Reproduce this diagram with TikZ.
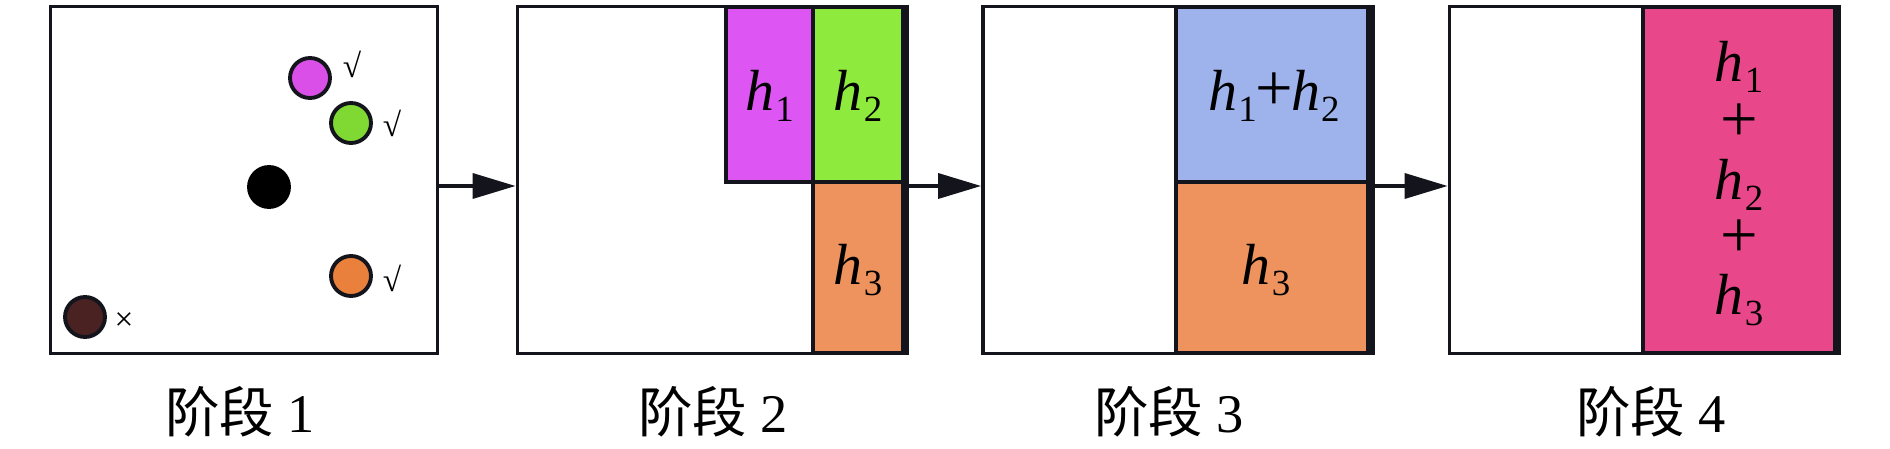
\documentclass[tikz,border=0pt]{standalone}
\usepackage{fontspec}
\setmainfont{Liberation Serif}
\newfontfamily\cjk{Noto Sans CJK SC}
\usetikzlibrary{arrows.meta}

\definecolor{edgeblk}{HTML}{14141C}
\definecolor{ballmag}{HTML}{D94FE8}
\definecolor{ballgreen}{HTML}{80D832}
\definecolor{ballorange}{HTML}{E9803C}
\definecolor{ballbrown}{HTML}{4A2222}
\definecolor{partmag}{HTML}{DD55F2}
\definecolor{partgreen}{HTML}{8EEA3C}
\definecolor{partorange}{HTML}{EE935E}
\definecolor{partblue}{HTML}{9EB2EC}
\definecolor{partpink}{HTML}{E8478A}

% italic h with a lowered index, and a wide plus
\newcommand{\hsub}[1]{\textit{h}\kern0.02em\raisebox{-6pt}{\fontsize{21}{21}\selectfont #1}}
\newcommand{\bigplus}{{\fontsize{38}{38}\selectfont +}}

\tikzset{
    stagebox/.style={draw=edgeblk, line width=2.2pt, minimum width=7.74cm, minimum height=6.94cm, inner sep=0pt},
    part/.style={draw=edgeblk, line width=2.2pt},
    ball/.style={circle, draw=edgeblk, line width=2.2pt, minimum size=0.8cm, inner sep=0pt},
    flow/.style={draw=edgeblk, line width=2pt, -{Triangle[length=0.86cm, width=0.5cm]}},
    stagelabel/.style={font=\fontsize{31}{36}\selectfont},
    hlabel/.style={font=\fontsize{33}{33}\selectfont, inner sep=0pt},
    ticklabel/.style={font=\fontsize{19}{21}\selectfont, inner sep=0pt},
}

\begin{document}
\begin{tikzpicture}[x=0.02cm, y=-0.02cm]
    \useasboundingbox (0,0) rectangle (1890,449);

    % the four stages
    \node[stagebox] (s1) at (244,180) {};
    \node[stagebox] (s2) at (711,180) {};
    \node[stagebox] (s3) at (1176.5,180) {};
    \node[stagebox] (s4) at (1643,180) {};

    % stage 1: the points
    \node[ball, fill=ballmag] (b1) at (310,78) {};
    \node[ball, fill=ballgreen] (b2) at (351,123) {};
    \node[ball, fill=black, draw=black] (b0) at (269,187) {};
    \node[ball, fill=ballorange] (b3) at (351,276) {};
    \node[ball, fill=ballbrown] (b4) at (85,317) {};
    \node[ticklabel] (t1) at (352,64) {√};
    \node[ticklabel] (t2) at (392,123) {√};
    \node[ticklabel] (t3) at (392,278) {√};
    \node[ticklabel] (t4) at (124,322) {×};

    % stage 2
    \draw[part, fill=partmag] (726,7) rectangle (813,182);
    \draw[part, fill=partgreen] (813,7) rectangle (903,182);
    \draw[part, fill=partorange] (813,182) rectangle (903,353);
    \node[hlabel] (h21) at (769.5,96) {\hsub{1}};
    \node[hlabel] (h22) at (858,96) {\hsub{2}};
    \node[hlabel] (h23) at (858,270) {\hsub{3}};

    % stage 3
    \draw[part, fill=partblue] (1176,7) rectangle (1368,182);
    \draw[part, fill=partorange] (1176,182) rectangle (1368,353);
    \node[hlabel] (h312) at (1274,96) {\hsub{1}\kern-1pt\bigplus\kern-1pt\hsub{2}};
    \node[hlabel] (h33) at (1266,270) {\hsub{3}};

    % stage 4
    \draw[part, fill=partpink] (1643,7) rectangle (1835,353);
    \node[hlabel] (h41) at (1739,67) {\hsub{1}};
    \node[hlabel] (p41) at (1739,123) {\bigplus};
    \node[hlabel] (h42) at (1739,185) {\hsub{2}};
    \node[hlabel] (p42) at (1739,239) {\bigplus};
    \node[hlabel] (h43) at (1739,300) {\hsub{3}};

    % heavier right edges
    \draw[edgeblk, line width=3pt] (s2.north east) -- (s2.south east);
    \draw[edgeblk, line width=3pt] (s3.north east) -- (s3.south east);
    \draw[edgeblk, line width=3.4pt] (s4.north east) -- (s4.south east);

    \draw[flow] ([yshift=-0.12cm]s1.east) -- ([yshift=-0.12cm]s2.west);
    \draw[flow] ([yshift=-0.12cm]s2.east) -- ([yshift=-0.12cm]s3.west);
    \draw[flow] ([yshift=-0.12cm]s3.east) -- ([yshift=-0.12cm]s4.west);

    \node[stagelabel] (l1) at (240,412) {{\cjk 阶段} 1};
    \node[stagelabel] (l2) at (713,412) {{\cjk 阶段} 2};
    \node[stagelabel] (l3) at (1169,412) {{\cjk 阶段} 3};
    \node[stagelabel] (l4) at (1651,412) {{\cjk 阶段} 4};
\end{tikzpicture}
\end{document}
